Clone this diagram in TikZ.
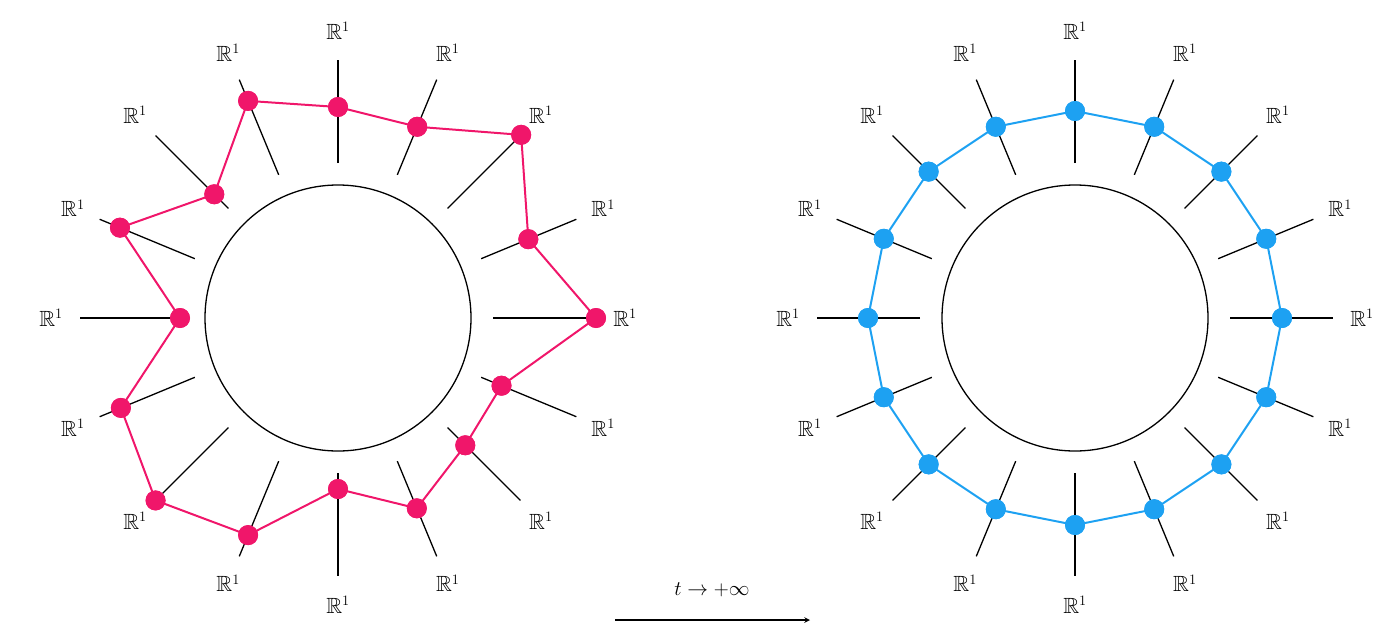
\documentclass[tikz,border=0pt]{standalone}
\usepackage{amssymb}
\usetikzlibrary{calc}
\definecolor{pinkc}{HTML}{F0166A}
\definecolor{bluec}{HTML}{1DA1F2}
\begin{document}
\begin{tikzpicture}[x=1pt,y=-1pt,
  ray/.style={line width=1.3pt,black},
  lab/.style={font=\fontsize{22}{26}\selectfont},
  dotp/.style={circle,fill=pinkc,minimum size=20pt,inner sep=0pt},
  dotb/.style={circle,fill=bluec,minimum size=20pt,inner sep=0pt},
  ring/.style={line width=1.3pt,black}]
\useasboundingbox (0,0) rectangle (1400,642);
% left
\coordinate (cl) at (338,318);
\draw[ring] (cl) circle (133);
\foreach \i in {0,...,15}{
  \pgfmathsetmacro\a{\i*22.5}
  \draw[ray] ($(cl)+({155*cos(\a)},{-155*sin(\a)})$) -- ($(cl)+({258*cos(\a)},{-258*sin(\a)})$);
  \node[lab] at ($(cl)+({287*cos(\a)},{-287*sin(\a)})$) {$\mathbb{R}^1$};
}
\foreach \i/\rr in {0/258,1/206,2/259,3/207,4/211,5/235,6/175,7/236,8/158,9/235,10/258,11/235,12/171,13/206,14/180,15/177}{
  \pgfmathsetmacro\a{\i*22.5}
  \node[dotp] (L\i) at ($(cl)+({\rr*cos(\a)},{-\rr*sin(\a)})$) {};
}
\draw[pinkc,line width=2pt] (L0.center)--(L1.center)--(L2.center)--(L3.center)--(L4.center)--(L5.center)--(L6.center)--(L7.center)--(L8.center)--(L9.center)--(L10.center)--(L11.center)--(L12.center)--(L13.center)--(L14.center)--(L15.center)--cycle;
\foreach \i in {0,...,15}{\node[dotp] at (L\i) {};}
% right
\coordinate (cr) at (1075,318);
\draw[ring] (cr) circle (133);
\foreach \i in {0,...,15}{
  \pgfmathsetmacro\a{\i*22.5}
  \draw[ray] ($(cr)+({155*cos(\a)},{-155*sin(\a)})$) -- ($(cr)+({258*cos(\a)},{-258*sin(\a)})$);
  \node[lab] at ($(cr)+({287*cos(\a)},{-287*sin(\a)})$) {$\mathbb{R}^1$};
  \node[dotb] (R\i) at ($(cr)+({207*cos(\a)},{-207*sin(\a)})$) {};
}
\draw[bluec,line width=2pt] (R0.center)--(R1.center)--(R2.center)--(R3.center)--(R4.center)--(R5.center)--(R6.center)--(R7.center)--(R8.center)--(R9.center)--(R10.center)--(R11.center)--(R12.center)--(R13.center)--(R14.center)--(R15.center)--cycle;
\foreach \i in {0,...,15}{\node[dotb] at (R\i) {};}
% arrow
\coordinate (a1) at (615,620);
\coordinate (a2) at (810,620);
\draw[line width=1.5pt,-stealth] (a1) -- (a2);
\node[lab] at (712,590) {$t\to+\infty$};
\end{tikzpicture}
\end{document}
